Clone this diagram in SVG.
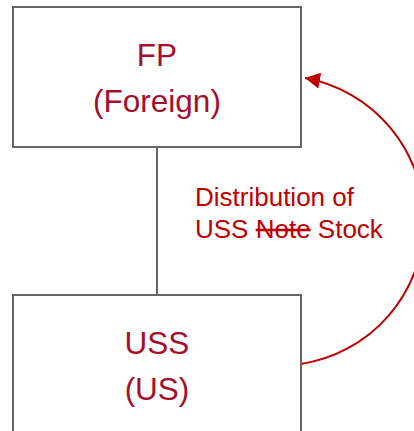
<svg xmlns="http://www.w3.org/2000/svg" width="414" height="431" viewBox="0 0 414 431">
  <style>
    .box { fill: #ffffff; stroke: #666666; stroke-width: 2; }
    .name { font-family: "Liberation Sans", Arial, sans-serif; font-size: 31.5px; fill: #A50F2D; text-anchor: middle; }
    .label { font-family: "Liberation Sans", Arial, sans-serif; font-size: 26px; fill: #C00000; }
    .link { fill: none; stroke: #666666; stroke-width: 2; }
    .flow { fill: none; stroke: #C00000; stroke-width: 2; }
  </style>
  <defs>
    <marker id="arrow" markerUnits="userSpaceOnUse" markerWidth="16" markerHeight="16" refX="15" refY="8" orient="auto">
      <path d="M0,0 L15,8 L0,16 Z" fill="#C00000"/>
    </marker>
  </defs>
  <rect width="414" height="431" fill="#ffffff"/>

  <g id="connectors">
    <line class="link" x1="157" y1="147" x2="157" y2="295"/>
    <path class="flow" d="M301,364 A145,145 0 0,0 305,78" marker-end="url(#arrow)"/>
  </g>

  <g id="fp">
    <rect class="box" x="13" y="7" width="288" height="140"/>
    <text class="name" x="157" y="66">FP</text>
    <text class="name" x="157" y="112">(Foreign)</text>
  </g>

  <g id="uss">
    <rect class="box" x="13" y="295" width="288" height="160"/>
    <text class="name" x="157" y="354">USS</text>
    <text class="name" x="157" y="400">(US)</text>
  </g>

  <g id="distribution-label">
    <text class="label" x="195" y="206">Distribution of</text>
    <text class="label" x="195" y="238">USS <tspan text-decoration="line-through">Note</tspan> Stock</text>
  </g>
</svg>
